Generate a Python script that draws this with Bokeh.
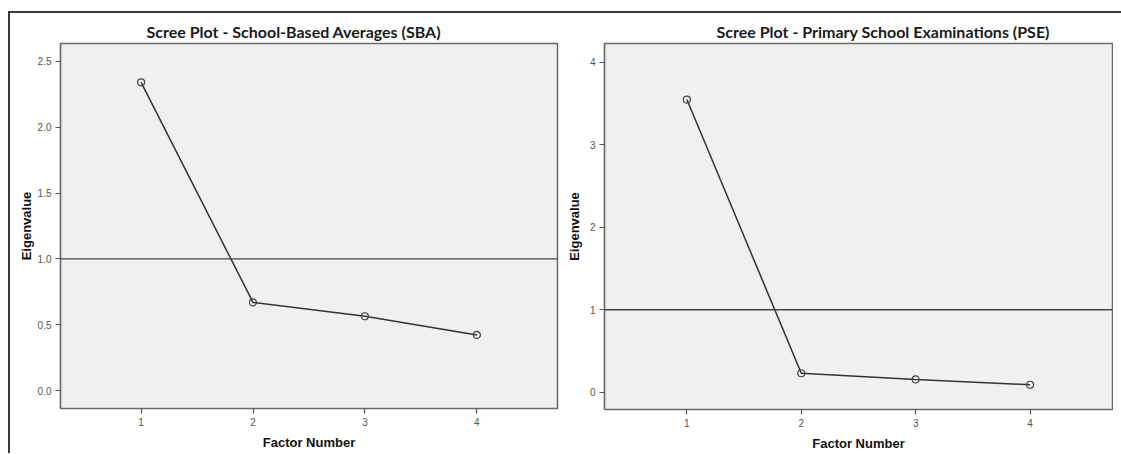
from bokeh.plotting import figure
from bokeh.models import (FixedTicker, PrintfTickFormatter, Span, Title, Range1d, Row)
from bokeh.embed import file_html
from bokeh.resources import INLINE

# ---- data ----
factors = [1, 2, 3, 4]
sba_eigen = [2.34, 0.67, 0.565, 0.423]
pse_eigen = [3.55, 0.23, 0.155, 0.09]
sba_ticks = [0.0, 0.5, 1.0, 1.5, 2.0, 2.5]
pse_ticks = [0, 1, 2, 3, 4]
x_ticks = [1, 2, 3, 4]
title_sba = "Scree Plot - School-Based Averages (SBA)"
title_pse = "Scree Plot - Primary School Examinations (PSE)"
x_label = "Factor Number"
y_label = "Eigenvalue"
criterion = 1.0

BG = "#f0f0f0"
FRAME = "#6a6a6a"
LINE = "#333333"


def make(values, yticks, yrange, title, title_offset, width, height,
         mb_left, mb_right, mb_top, mb_bottom, fmt, ylab_standoff):
    p = figure(width=width, height=height, output_backend="svg",
               toolbar_location=None, x_range=Range1d(0.28, 4.72),
               y_range=Range1d(*yrange), min_border_left=mb_left,
               min_border_right=mb_right, min_border_top=mb_top,
               min_border_bottom=mb_bottom)
    p.background_fill_color = BG
    p.border_fill_color = "white"
    p.outline_line_color = FRAME
    p.outline_line_width = 1.5
    p.grid.visible = False
    t = Title(text=title, align="left", offset=title_offset,
              text_font="Lato", text_font_style="bold", text_font_size="16px",
              text_color="#1a1a1a", standoff=5)
    p.add_layout(t, "above")

    for ax in (p.xaxis[0], p.yaxis[0]):
        ax.axis_line_color = FRAME
        ax.axis_line_width = 1.2
        ax.major_tick_line_color = "#555555"
        ax.major_tick_line_width = 1.2
        ax.major_tick_out = 5
        ax.major_tick_in = 0
        ax.minor_tick_line_color = None
        ax.major_label_text_font = "Liberation Sans"
        ax.major_label_text_font_size = "10px"
        ax.major_label_text_color = "#555555"
        ax.axis_label_text_font = "Liberation Sans"
        ax.axis_label_text_font_style = "bold"
        ax.axis_label_text_font_size = "13px"
        ax.axis_label_text_color = "#111111"

    p.xaxis.ticker = FixedTicker(ticks=x_ticks)
    p.xaxis.axis_label = x_label
    p.xaxis.major_label_standoff = 4
    p.xaxis.axis_label_standoff = 6
    p.yaxis.ticker = FixedTicker(ticks=yticks)
    if fmt:
        p.yaxis.formatter = PrintfTickFormatter(format=fmt)
    p.yaxis.axis_label = y_label
    p.yaxis.major_label_standoff = 4
    p.yaxis.axis_label_standoff = ylab_standoff

    p.add_layout(Span(location=criterion, dimension="width",
                      line_color="#444444", line_width=1.3))
    p.line(factors, values, line_color=LINE, line_width=1.5)
    p.scatter(factors, values, marker="circle", size=7, fill_color=None,
              line_color="#444444", line_width=1.2)
    return p


p1 = make(sba_eigen, sba_ticks, (-0.135, 2.635), title_sba, 86,
          551, 439, 50, 4, 30, 44, "%.1f", 1)
p2 = make(pse_eigen, pse_ticks, (-0.21, 4.23), title_pse, 112,
          552, 440, 43, 1, 28, 44, None, 5)

layout = Row(children=[p1, p2], styles={
    "border-left": "2px solid #3a3a3a",
    "border-top": "2px solid #3a3a3a",
    "margin-top": "11px",
    "margin-left": "8px",
    "padding-right": "8px",
})

open("out.html", "w").write(file_html(layout, INLINE))
